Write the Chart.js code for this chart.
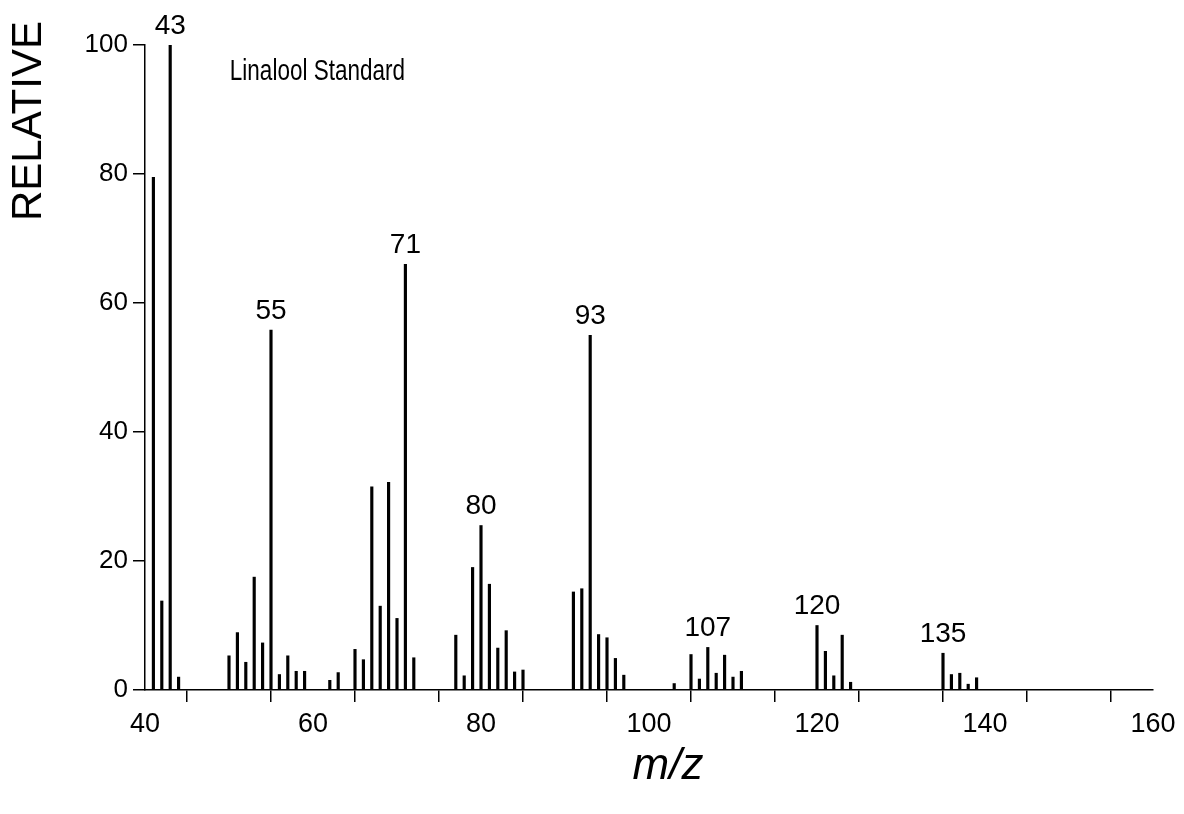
<!DOCTYPE html>
<html lang="en">
<head>
    <meta charset="UTF-8">
    <title>Linalool Standard</title>
    <script src="https://cdn.jsdelivr.net/npm/chart.js"></script>
    <style>
        body { margin: 0; background: #fff; }
    </style>
</head>
<body>
    <canvas id="msChart" width="1184" height="814"></canvas>

    <script>
        // m/z values and relative intensities
        const mz = [41, 42, 43, 44, 50, 51, 52, 53, 54, 55, 56, 57, 58, 59, 62, 63,
            65, 66, 67, 68, 69, 70, 71, 72, 77, 78, 79, 80, 81, 82, 83, 84, 85,
            91, 92, 93, 94, 95, 96, 97, 103, 105, 106, 107, 108, 109, 110, 111,
            120, 121, 122, 123, 124, 135, 136, 137, 138, 139];
        const intensity = [79.5, 13.8, 100, 2.0, 5.3, 8.9, 4.3, 17.5, 7.3, 55.8, 2.4, 5.3, 2.9, 2.9, 1.5, 2.7,
            6.3, 4.7, 31.5, 13.0, 32.2, 11.1, 66.0, 5.0, 8.5, 2.2, 19.0, 25.5, 16.4, 6.5, 9.2, 2.8, 3.1,
            15.2, 15.7, 55.0, 8.6, 8.1, 4.9, 2.3, 1.0, 5.5, 1.7, 6.6, 2.6, 5.4, 2.0, 2.9,
            10.0, 6.0, 2.2, 8.5, 1.2, 5.7, 2.4, 2.6, 0.9, 1.9];
        const labelledPeaks = [43, 55, 71, 80, 93, 107, 120, 135];
        const yTicks = [0, 20, 40, 60, 80, 100];
        const xTicks = [40, 60, 80, 100, 120, 140, 160];

        const FONT = "'Liberation Sans', Arial, Helvetica, sans-serif";

        // peak numbers, sample name and axis titles
        const annotations = {
            id: 'annotations',
            afterDatasetsDraw(chart) {
                const ctx = chart.ctx;
                const xs = chart.scales.x;
                const ys = chart.scales.y;
                ctx.save();
                ctx.fillStyle = '#000';

                ctx.font = '28px ' + FONT;
                ctx.textAlign = 'center';
                ctx.textBaseline = 'bottom';
                labelledPeaks.forEach(p => {
                    const i = mz.indexOf(p);
                    if (i < 0) return;
                    ctx.fillText(String(p), xs.getPixelForValue(p), ys.getPixelForValue(intensity[i]) - 5);
                });

                // the sample name is set narrow and tall in the original
                ctx.save();
                ctx.translate(xs.getPixelForValue(50.1), ys.getPixelForValue(95.8));
                ctx.scale(1, 1.3);
                ctx.font = '22.5px ' + FONT;
                ctx.textAlign = 'left';
                ctx.textBaseline = 'middle';
                ctx.fillText('Linalool Standard', 0, 0);
                ctx.restore();

                ctx.font = 'italic 44px ' + FONT;
                ctx.textAlign = 'center';
                ctx.textBaseline = 'middle';
                ctx.fillText('m/z', 668, 767);

                ctx.translate(29, 121);
                ctx.rotate(-Math.PI / 2);
                ctx.font = '42px ' + FONT;
                ctx.fillText('RELATIVE', 0, 0);
                ctx.restore();
            }
        };

        const ctx = document.getElementById('msChart').getContext('2d');
        new Chart(ctx, {
            type: 'bar',
            data: {
                datasets: [{
                    data: mz.map((m, i) => ({ x: m, y: intensity[i] })),
                    backgroundColor: '#000',
                    borderWidth: 0,
                    barThickness: 2.5,
                }],
            },
            options: {
                responsive: false,
                animation: false,
                layout: { padding: { left: 0, top: 45, right: 31, bottom: 0 } },
                plugins: {
                    legend: { display: false },
                    tooltip: { enabled: false },
                },
                scales: {
                    x: {
                        type: 'linear',
                        min: 40,
                        max: 160,
                        offset: false,
                        afterFit(scale) { scale.height = 124; },
                        border: { display: true, color: '#000', width: 1.5 },
                        grid: { drawOnChartArea: false, drawTicks: true, tickLength: 12, color: '#000', lineWidth: 1.5 },
                        ticks: {
                            stepSize: 10,
                            autoSkip: false,
                            maxRotation: 0,
                            padding: 6,
                            color: '#000',
                            font: { family: FONT, size: 27 },
                            callback: v => xTicks.includes(v) ? v : '',
                        },
                    },
                    y: {
                        min: 0,
                        max: 100,
                        afterFit(scale) { scale.width = 145; },
                        border: { display: true, color: '#000', width: 1.5 },
                        grid: { drawOnChartArea: false, drawTicks: true, tickLength: 12, color: '#000', lineWidth: 1.5 },
                        afterBuildTicks(scale) { scale.ticks = yTicks.map(v => ({ value: v })); },
                        ticks: {
                            padding: 5,
                            color: '#000',
                            font: { family: FONT, size: 26 },
                        },
                    },
                },
            },
            plugins: [annotations],
        });
    </script>
</body>
</html>
